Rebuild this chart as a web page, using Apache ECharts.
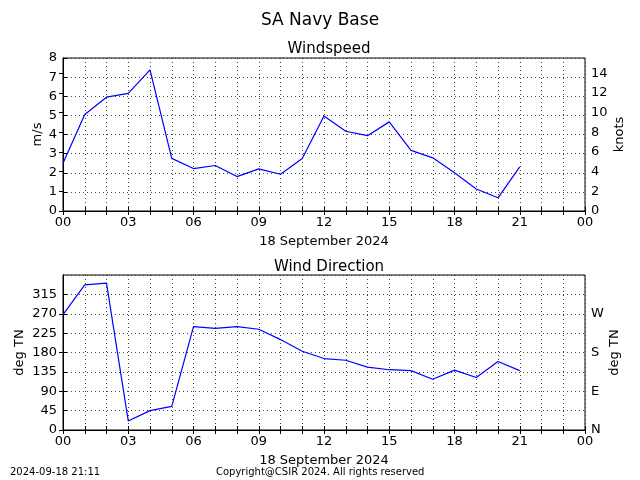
<!DOCTYPE html>
<html><head><meta charset="utf-8">
<script src="https://cdn.jsdelivr.net/npm/echarts@6/dist/echarts.min.js"></script>
<style>html,body{margin:0;padding:0;background:#fff}#c{width:640px;height:480px}</style>
</head><body><div id="c"></div>
<script>
const hours = [0,1,2,3,4,5,6,7,8,9,10,11,12,13,14,15,16,17,18,19,20,21];
const windSpeed = [2.5,5.05,5.95,6.15,7.38,2.75,2.22,2.38,1.8,2.2,1.92,2.75,4.97,4.17,3.94,4.66,3.17,2.78,2.0,1.15,0.69,2.31];
const windDir = [268,337,341,21,45,55,240,236,240,234,210,183,166,162,146,140,138,118,139,122,159,138];
const compassLabels = {0:'N',90:'E',180:'S',270:'W'};
const msToKnots = 1.94384;

const F = 'DejaVu Sans';
const GRID = {color:'#444', type:[1,3], width:1};
const chart = echarts.init(document.getElementById('c'), null, {renderer:'canvas'});
function hourFmt(v){ if (v % 3 !== 0) return ''; const h = v % 24; return (h<10?'0':'')+h; }
const xCommon = (gi) => ({
  type:'value', gridIndex:gi, min:0, max:24, interval:1,
  axisLine:{show:true, lineStyle:{color:'#000', width:1}},
  axisTick:{show:true, inside:true, length:4, lineStyle:{color:'#000'}},
  axisLabel:{formatter:hourFmt, color:'#000', fontFamily:F, fontSize:13, margin:5, showMaxLabel:true, hideOverlap:false},
  splitLine:{show:true, lineStyle:GRID},
  name:'18 September 2024', nameLocation:'middle', nameGap:24,
  nameTextStyle:{color:'#000', fontFamily:F, fontSize:13}
});
const xTop = (gi) => ({
  type:'value', gridIndex:gi, position:'top', min:0, max:24, interval:1,
  axisLine:{show:true, lineStyle:{color:'#000'}},
  axisTick:{show:true, inside:true, length:4, lineStyle:{color:'#000'}},
  axisLabel:{show:false}, splitLine:{show:false}
});
const yStyle = {
  nameMoveOverlap:false,
  axisLine:{show:true, lineStyle:{color:'#000', width:1}},
  axisTick:{show:true, inside:true, length:4, lineStyle:{color:'#000'}},
};
chart.setOption({
  animation:false,
  backgroundColor:'#fff',
  title:[
    {text:'SA Navy Base', left:'center', top:7, textStyle:{fontFamily:F, fontSize:17, fontWeight:'normal', color:'#000'}},
    {text:'Windspeed', left:324, textAlign:'center', top:37, textStyle:{fontFamily:F, fontSize:15, fontWeight:'normal', color:'#000'}},
    {text:'Wind Direction', left:324, textAlign:'center', top:255, textStyle:{fontFamily:F, fontSize:15, fontWeight:'normal', color:'#000'}},
    {text:'2024-09-18 21:11', left:10, top:467, padding:0, textStyle:{fontFamily:F, fontSize:10, fontWeight:'normal', color:'#000'}},
    {text:'Copyright@CSIR 2024. All rights reserved', left:216, top:467, padding:0, textStyle:{fontFamily:F, fontSize:10, fontWeight:'normal', color:'#000'}}
  ],
  grid:[
    {left:63, top:58, width:522, height:153, show:true, borderColor:'#000', borderWidth:1, backgroundColor:'transparent'},
    {left:63, top:275, width:522, height:155, show:true, borderColor:'#000', borderWidth:1, backgroundColor:'transparent'}
  ],
  xAxis:[xCommon(0), xCommon(1), xTop(0), xTop(1)],
  yAxis:[
    Object.assign({type:'value', gridIndex:0, min:0, max:8, interval:1,
      axisLabel:{color:'#000', fontFamily:F, fontSize:13, margin:6},
      splitLine:{show:true, lineStyle:GRID},
      name:'m/s', nameLocation:'middle', nameGap:19, nameTextStyle:{color:'#000', fontFamily:F, fontSize:13}}, yStyle),
    Object.assign({type:'value', gridIndex:0, position:'right', min:0, max:8*msToKnots, interval:2,
      axisLabel:{color:'#000', fontFamily:F, fontSize:13, margin:6, showMaxLabel:false,
        formatter:(v)=> (Math.abs(v-Math.round(v))<1e-6 && v<=14) ? String(v) : ''},
      splitLine:{show:false},
      name:'knots', nameLocation:'middle', nameGap:28, nameRotate:90, nameTextStyle:{color:'#000', fontFamily:F, fontSize:13}}, yStyle),
    Object.assign({type:'value', gridIndex:1, min:0, max:360, interval:45,
      axisLabel:{color:'#000', fontFamily:F, fontSize:13, margin:6, showMaxLabel:false},
      splitLine:{show:true, lineStyle:GRID},
      name:'deg TN', nameLocation:'middle', nameGap:37, nameTextStyle:{color:'#000', fontFamily:F, fontSize:13}}, yStyle),
    Object.assign({type:'value', gridIndex:1, position:'right', min:0, max:360, interval:90,
      axisLabel:{color:'#000', fontFamily:F, fontSize:13, margin:6, showMaxLabel:false,
        formatter:(v)=> compassLabels[v] !== undefined ? compassLabels[v] : ''},
      splitLine:{show:false},
      name:'deg TN', nameLocation:'middle', nameGap:23, nameRotate:90, nameTextStyle:{color:'#000', fontFamily:F, fontSize:13}}, yStyle)
  ],
  series:[
    {type:'line', xAxisIndex:0, yAxisIndex:0, data:hours.map((h,i)=>[h, windSpeed[i]]), showSymbol:false, lineStyle:{color:'#0000ff', width:1.2}, itemStyle:{color:'#0000ff'}},
    {type:'line', xAxisIndex:1, yAxisIndex:2, data:hours.map((h,i)=>[h, windDir[i]]), showSymbol:false, lineStyle:{color:'#0000ff', width:1.2}, itemStyle:{color:'#0000ff'}}
  ]
});
</script></body></html>
